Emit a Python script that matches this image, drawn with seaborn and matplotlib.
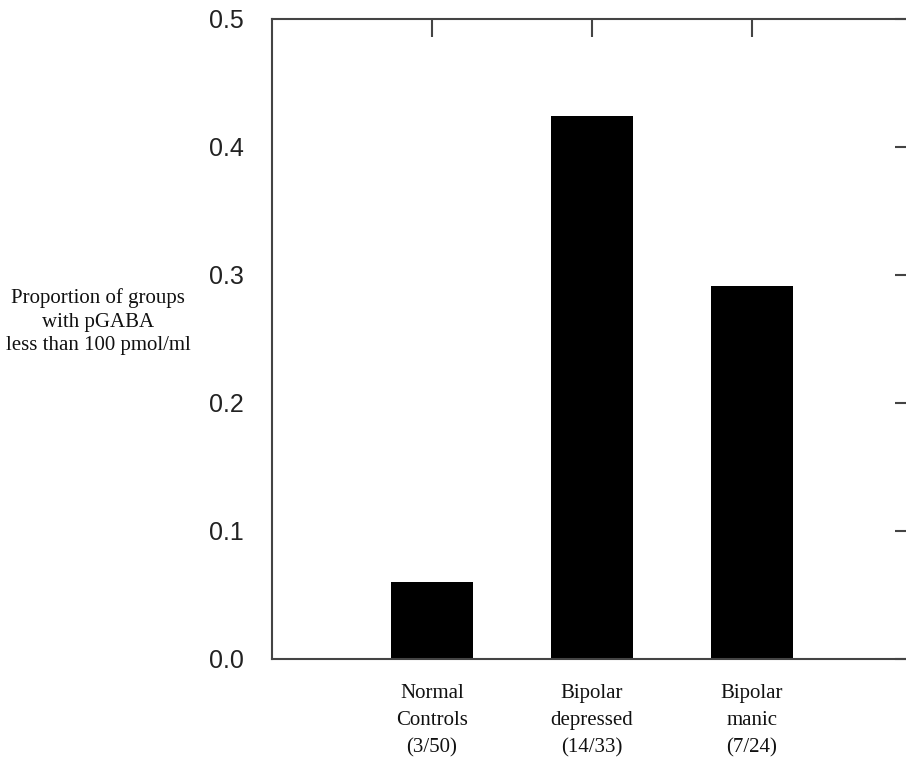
import matplotlib
matplotlib.use("Agg")
import matplotlib.pyplot as plt
import seaborn as sns
import pandas as pd

categories = ["Normal\nControls\n(3/50)", "Bipolar\ndepressed\n(14/33)", "Bipolar\nmanic\n(7/24)"]
proportions = [0.06, 0.424, 0.2917]
y_ticks = [0.0, 0.1, 0.2, 0.3, 0.4, 0.5]
y_label = "Proportion of groups\nwith pGABA\nless than 100 pmol/ml"

sns.set_style("white")
df = pd.DataFrame({"group": categories, "prop": proportions})

fig = plt.figure(figsize=(9.06, 7.59), dpi=100)
ax = fig.add_axes([272/906, 100/759, 640/906, 640/759])
sns.barplot(data=df, x="group", y="prop", color="black", width=0.51,
            saturation=1, ax=ax, edgecolor="black", linewidth=0)
ax.set_xlim(-1, 3)
ax.set_ylim(0, 0.5)
ax.set_yticks(y_ticks)
ax.set_yticklabels([f"{v:.1f}" for v in y_ticks], fontsize=18,
                   family="Liberation Sans", color="#222222")
ax.set_xticks(range(len(categories)))
ax.set_xticklabels(categories, fontsize=15, family="Liberation Serif",
                   color="#111111", linespacing=1.58)
ax.set_xlabel("")
ax.set_ylabel("")
ax.tick_params(axis="x", bottom=False, top=True, direction="in", length=13,
               width=1.5, color="#444444", labelbottom=True, pad=18)
ax.tick_params(axis="y", left=False, right=True, direction="in", length=12,
               width=1.5, color="#444444", labelleft=True, pad=20)
for s in ax.spines.values():
    s.set_color("#444444")
    s.set_linewidth(1.5)

fig.text(98/906, 1 - 322/759, y_label, ha="center", va="center",
         fontsize=15, family="Liberation Serif", color="#111111", linespacing=1.32)

fig.savefig("out.png", dpi=100)
